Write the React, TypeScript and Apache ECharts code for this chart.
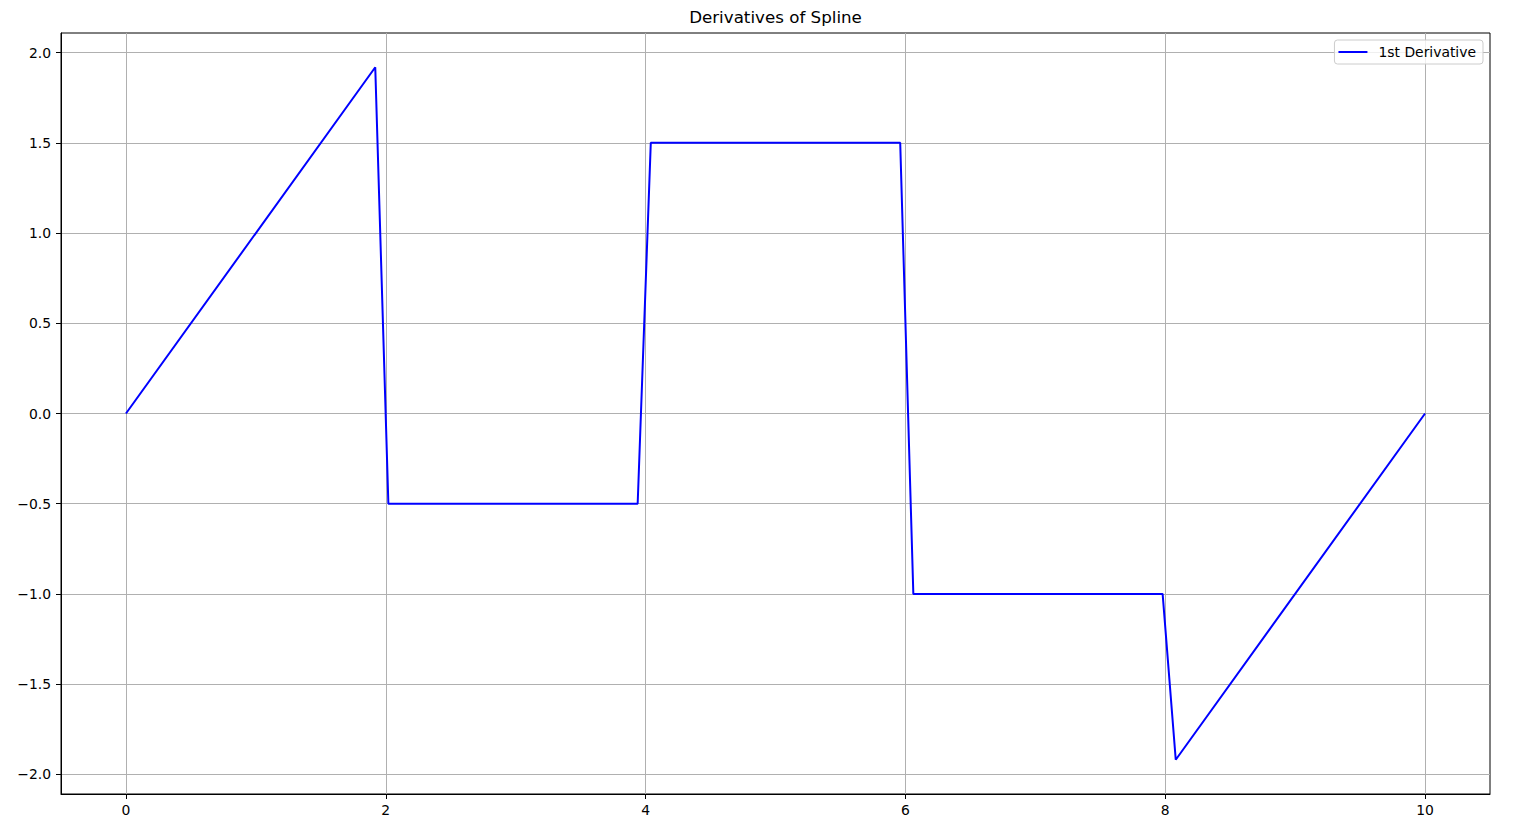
import React, { useEffect, useRef } from "react";
import * as echarts from "echarts";

const xValues = [0, 1.919, 2.02, 3.939, 4.04, 5.96, 6.061, 7.98, 8.081, 10];
const firstDerivative = [0, 1.919, -0.5, -0.5, 1.5, 1.5, -1, -1, -1.919, 0];
const xTicks = [0, 2, 4, 6, 8, 10];
const yTicks = [-2, -1.5, -1, -0.5, 0, 0.5, 1, 1.5, 2];
const seriesName = "1st Derivative";
const titleText = "Derivatives of Spline";

const FONT = "DejaVu Sans";

export default function App() {
  const ref = useRef<HTMLDivElement>(null);
  useEffect(() => {
    if (!ref.current) return;
    const chart = echarts.init(ref.current, undefined, { renderer: "svg" });
    const fmt = (v: number, d: number) => v.toFixed(d).replace("-", "\u2212");
    chart.setOption({
      animation: false,
      backgroundColor: "#fff",
      textStyle: { fontFamily: FONT },
      graphic: [
        {
          type: "text",
          x: 775.5,
          y: 17,
          style: {
            text: titleText,
            fontFamily: FONT,
            fontSize: 16.7,
            fill: "#000",
            textAlign: "center",
            textVerticalAlign: "middle",
          },
        },
      ],
      grid: {
        left: 61,
        right: 36,
        top: 33,
        bottom: 25,
        show: true,
        borderColor: "#000",
        borderWidth: 1,
        backgroundColor: "transparent",
      },
      legend: {
        right: 43,
        top: 40,
        padding: [5, 7, 5, 4],
        backgroundColor: "rgba(255,255,255,0.8)",
        borderColor: "#cccccc",
        borderWidth: 1,
        borderRadius: 3,
        itemWidth: 29,
        itemHeight: 2,
        icon: "rect",
        textStyle: { fontFamily: FONT, fontSize: 13.9, color: "#000", padding: [0, 0, 0, 6] },
        data: [seriesName],
      },
      xAxis: {
        type: "value",
        min: -0.5,
        max: 10.5,
        axisLine: { show: true, onZero: false, lineStyle: { color: "#000", width: 1 } },
        axisTick: {
          show: true,
          customValues: xTicks,
          length: 5,
          lineStyle: { color: "#000" },
        },
        axisLabel: {
          customValues: xTicks,
          margin: 9,
          fontFamily: FONT,
          fontSize: 13.9,
          color: "#000",
          formatter: (v: number) => fmt(v, 0),
        },
        splitLine: { show: true, lineStyle: { color: "#b0b0b0", width: 1 } },
      },
      yAxis: {
        type: "value",
        min: -2.109,
        max: 2.109,
        axisLine: { show: true, onZero: false, lineStyle: { color: "#000", width: 1 } },
        axisTick: {
          show: true,
          customValues: yTicks,
          length: 5,
          lineStyle: { color: "#000" },
        },
        axisLabel: {
          customValues: yTicks,
          margin: 10,
          fontFamily: FONT,
          fontSize: 13.9,
          color: "#000",
          formatter: (v: number) => fmt(v, 1),
        },
        splitLine: { show: true, lineStyle: { color: "#b0b0b0", width: 1 } },
      },
      series: [
        {
          name: seriesName,
          type: "line",
          data: xValues.map((x, i) => [x, firstDerivative[i]]),
          showSymbol: false,
          color: "#0000ff",
          lineStyle: { color: "#0000ff", width: 2 },
        },
      ],
    });
    return () => chart.dispose();
  }, []);
  return (
    <div
      ref={ref}
      style={{ position: "fixed", left: 0, top: 0, width: 1526, height: 819 }}
    />
  );
}
